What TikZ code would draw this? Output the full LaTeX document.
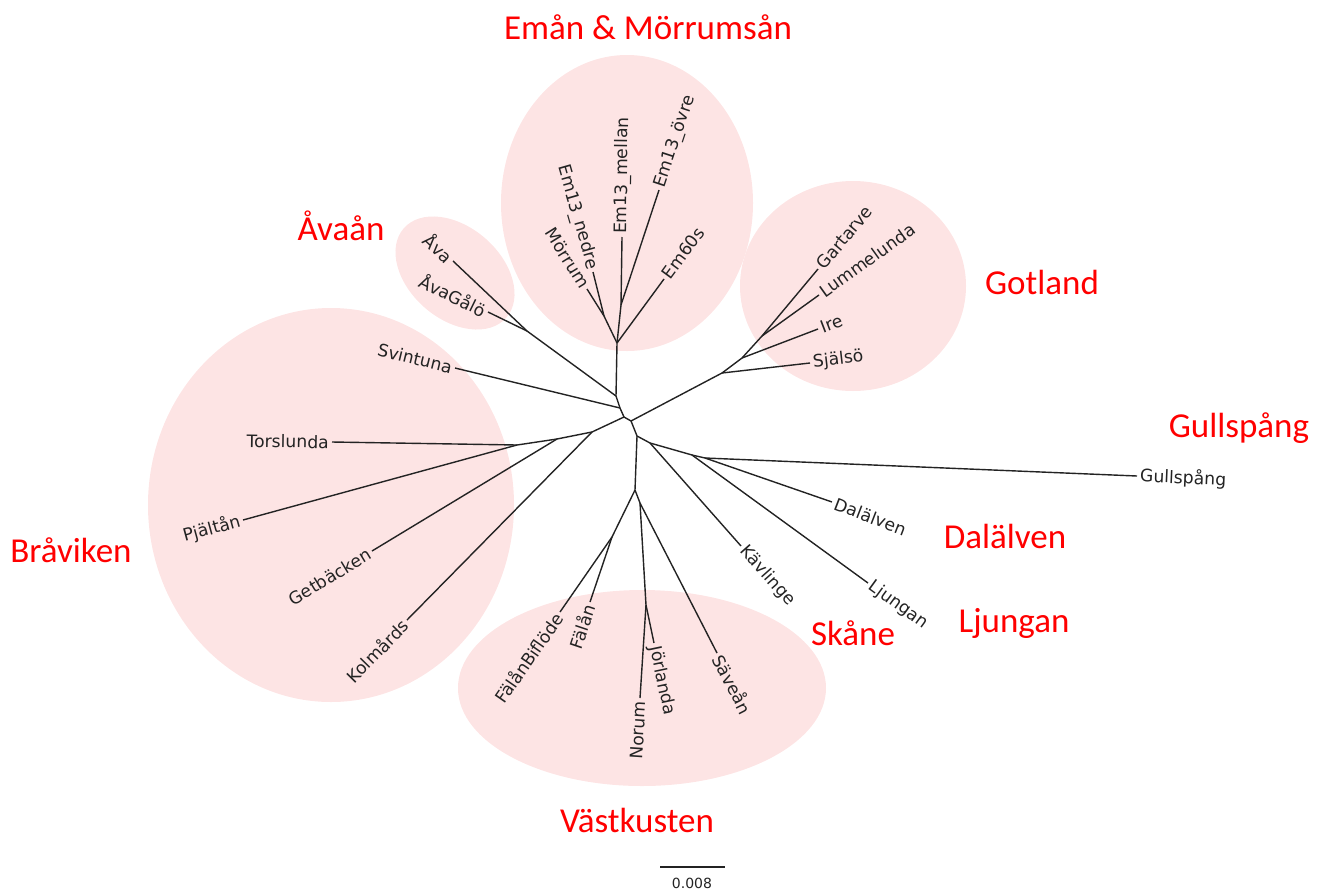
\documentclass[tikz,border=0pt]{standalone}
\usepackage{fontspec}
\setmainfont{DejaVu Sans}
\newfontfamily\groupfont{Carlito}
\definecolor{blobpink}{RGB}{253,228,228}
\definecolor{branchgray}{RGB}{35,35,35}
\tikzset{
  blob/.style={fill=blobpink, draw=none},
  branch/.style={draw=branchgray, line width=1.4pt},
  taxon/.style={font=\fontsize{17.2}{19}\selectfont, text=branchgray, inner sep=3pt},
  region/.style={font=\groupfont\fontsize{35}{40}\selectfont, text=red, anchor=base, inner sep=0pt}
}
\begin{document}
\begin{tikzpicture}[x=1pt,y=-1pt]
\useasboundingbox (0,0) rectangle (1327,892);

% shaded groups
\fill[blob] (627,203) ellipse [x radius=126, y radius=148];
\fill[blob, rotate around={-41:(455,273)}] (455,273) ellipse [x radius=68, y radius=46];
\fill[blob] (853,286) ellipse [x radius=113, y radius=105];
\fill[blob] (331,505) ellipse [x radius=183, y radius=197];
\fill[blob] (642,688) ellipse [x radius=184, y radius=98];

% inner nodes
\coordinate (r1) at (624,417);
\coordinate (r2) at (631,421);
\coordinate (r3) at (637,436);
\coordinate (r4) at (650,443);
\coordinate (t1) at (620,408);
\coordinate (t2) at (616,396);
\coordinate (e0) at (617,343);
\coordinate (e1) at (604,316);
\coordinate (e2) at (621,305);
\coordinate (av) at (527,331);
\coordinate (b2) at (592,432);
\coordinate (b3) at (557,439);
\coordinate (b1) at (517,445);
\coordinate (gt1) at (722,373);
\coordinate (gt2) at (742,358);
\coordinate (gt3) at (762,336);
\coordinate (g1) at (692,455);
\coordinate (g2) at (705,458);
\coordinate (v1) at (635,490);
\coordinate (v2) at (612,537);
\coordinate (v3) at (640,503);
\coordinate (v4) at (646,605);

% leaves
\coordinate (lAva) at (453,261);
\coordinate (lAvaG) at (488,312);
\coordinate (lSvin) at (455,368);
\coordinate (lMorr) at (587,289);
\coordinate (lNedre) at (593,272);
\coordinate (lMellan) at (622,237);
\coordinate (lOvre) at (659,190);
\coordinate (lEm60) at (664,279);
\coordinate (lGart) at (818,269);
\coordinate (lLumm) at (819,295);
\coordinate (lIre) at (818,329);
\coordinate (lSjal) at (810,363);
\coordinate (lTors) at (332,442);
\coordinate (lPjal) at (243,520);
\coordinate (lGetb) at (372,551);
\coordinate (lKolm) at (407,620);
\coordinate (lFalB) at (560,612);
\coordinate (lFal) at (590,602);
\coordinate (lNorum) at (640,698);
\coordinate (lJorl) at (654,643);
\coordinate (lSave) at (717,653);
\coordinate (lKavl) at (741,546);
\coordinate (lLjung) at (868,583);
\coordinate (lDal) at (832,502);
\coordinate (lGull) at (1137,476);

% branches
\draw[branch] (r1) -- (r2) -- (r3) -- (r4);
\draw[branch] (r1) -- (t1) -- (t2) -- (e0);
\draw[branch] (t1) -- (lSvin);
\draw[branch] (t2) -- (av);
\draw[branch] (av) -- (lAva);
\draw[branch] (av) -- (lAvaG);
\draw[branch] (e0) -- (e1);
\draw[branch] (e1) -- (lMorr);
\draw[branch] (e1) -- (lNedre);
\draw[branch] (e0) -- (e2);
\draw[branch] (e2) -- (lMellan);
\draw[branch] (e2) -- (lOvre);
\draw[branch] (e0) -- (lEm60);
\draw[branch] (r1) -- (b2) -- (b3) -- (b1);
\draw[branch] (b1) -- (lTors);
\draw[branch] (b1) -- (lPjal);
\draw[branch] (b3) -- (lGetb);
\draw[branch] (b2) -- (lKolm);
\draw[branch] (r2) -- (gt1) -- (gt2) -- (gt3);
\draw[branch] (gt1) -- (lSjal);
\draw[branch] (gt2) -- (lIre);
\draw[branch] (gt3) -- (lGart);
\draw[branch] (gt3) -- (lLumm);
\draw[branch] (r3) -- (v1);
\draw[branch] (v1) -- (v2);
\draw[branch] (v2) -- (lFalB);
\draw[branch] (v2) -- (lFal);
\draw[branch] (v1) -- (v3);
\draw[branch] (v3) -- (lSave);
\draw[branch] (v3) -- (v4);
\draw[branch] (v4) -- (lNorum);
\draw[branch] (v4) -- (lJorl);
\draw[branch] (r4) -- (lKavl);
\draw[branch] (r4) -- (g1);
\draw[branch] (g1) -- (lLjung);
\draw[branch] (g1) -- (g2);
\draw[branch] (g2) -- (lDal);
\draw[branch] (g2) -- (lGull);

% leaf labels
\node[taxon, rotate=-43.4, anchor=east] (tAva) at (lAva) {Åva};
\node[taxon, rotate=-26, anchor=east] (tAvaG) at (lAvaG) {ÅvaGålö};
\node[taxon, rotate=-13.6, anchor=east] (tSvin) at (lSvin) {Svintuna};
\node[taxon, rotate=-58, anchor=east] (tMorr) at (lMorr) {Mörrum};
\node[taxon, rotate=-74, anchor=east] (tNedre) at (lNedre) {Em13\_nedre};
\node[taxon, rotate=89.2, anchor=west] (tMellan) at (lMellan) {Em13\_mellan};
\node[taxon, rotate=71.7, anchor=west] (tOvre) at (lOvre) {Em13\_övre};
\node[taxon, rotate=53.7, anchor=west] (tEm60) at (lEm60) {Em60s};
\node[taxon, rotate=50.1, anchor=west] (tGart) at (lGart) {Gartarve};
\node[taxon, rotate=35.7, anchor=west] (tLumm) at (lLumm) {Lummelunda};
\node[taxon, rotate=20.9, anchor=west] (tIre) at (lIre) {Ire};
\node[taxon, rotate=6.5, anchor=west] (tSjal) at (lSjal) {Själsö};
\node[taxon, rotate=-0.9, anchor=east] (tTors) at (lTors) {Torslunda};
\node[taxon, rotate=15.3, anchor=east] (tPjal) at (lPjal) {Pjältån};
\node[taxon, rotate=31.2, anchor=east] (tGetb) at (lGetb) {Getbäcken};
\node[taxon, rotate=45.5, anchor=east] (tKolm) at (lKolm) {Kolmårds};
\node[taxon, rotate=55.3, anchor=east] (tFalB) at (lFalB) {FälånBiflöde};
\node[taxon, rotate=71.3, anchor=east] (tFal) at (lFal) {Fälån};
\node[taxon, rotate=86.3, anchor=east] (tNorum) at (lNorum) {Norum};
\node[taxon, rotate=-78.1, anchor=west] (tJorl) at (lJorl) {Jörlanda};
\node[taxon, rotate=-62.8, anchor=west] (tSave) at (lSave) {Säveån};
\node[taxon, rotate=-48.5, anchor=west] (tKavl) at (lKavl) {Kävlinge};
\node[taxon, rotate=-36, anchor=west] (tLjung) at (lLjung) {Ljungan};
\node[taxon, rotate=-21, anchor=west] (tDal) at (lDal) {Dalälven};
\node[taxon, rotate=-2.4, anchor=west] (tGull) at (lGull) {Gullspång};

% group names
\node[region] (nEman) at (648,39) {Emån \& Mörrumsån};
\node[region] (nAva) at (341,240) {Åvaån};
\node[region] (nGot) at (1042,294) {Gotland};
\node[region] (nGull) at (1239,437) {Gullspång};
\node[region] (nBrav) at (71,562) {Bråviken};
\node[region] (nDal) at (1005,548) {Dalälven};
\node[region] (nLjung) at (1014,632) {Ljungan};
\node[region] (nSkane) at (853,645) {Skåne};
\node[region] (nVast) at (637,832) {Västkusten};

% scale bar
\coordinate (sb1) at (660,867);
\coordinate (sb2) at (725,867);
\draw[draw=branchgray, line width=1.4pt] (sb1) -- (sb2);
\node[font=\fontsize{14}{16}\selectfont, text=branchgray, anchor=north, inner sep=0pt] (sbText) at (692,878) {0.008};

\end{tikzpicture}
\end{document}
